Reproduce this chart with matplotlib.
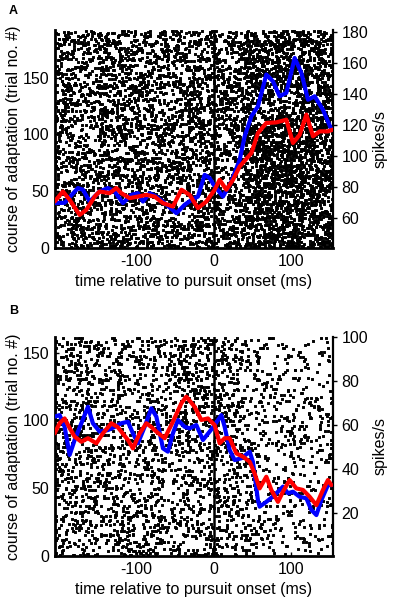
import numpy as np
import matplotlib
matplotlib.use("Agg")
import matplotlib.pyplot as plt

plt.rcParams['font.family'] = ['Liberation Sans', 'DejaVu Sans']

# ---------------- data ----------------
# Panel A firing rates (spikes/s)
a_blue_t = [-206.5, -193.5, -176.2, -169.7, -161.0, -148.1, -137.3, -128.6, -117.8, -106.9,
            -98.3, -91.8, -83.1, -74.4, -63.6, -48.4, -37.7, -28.6, -20.4, -11.7, -5.2, 0.0,
            12.1, 23.0, 33.8, 40.3, 49.0, 57.5, 68.4, 77.0, 85.7, 94.4, 105.2, 113.9, 122.5,
            131.2, 141.9, 152.9]
a_blue_v = [69.5, 69.7, 79.2, 78.1, 70.5, 77.0, 79.2, 77.0, 69.5, 74.8,
            75.9, 70.5, 75.9, 73.7, 69.5, 63.0, 68.4, 71.6, 73.7, 87.7, 85.6, 81.3,
            73.7, 83.4, 97.4, 112.5, 125.4, 131.8, 152.3, 147.9, 138.3, 140.5, 163.0, 153.4, 136.1,
            138.3, 129.7, 116.8]
a_red_t = [-206.5, -195.7, -187.0, -174.0, -165.3, -154.5, -148.1, -135.1, -126.4, -119.9,
           -109.1, -98.3, -87.4, -76.6, -65.8, -52.9, -41.9, -31.2, -20.4, -9.5, 1.3, 7.8,
           16.5, 25.1, 33.8, 49.0, 57.5, 68.4, 81.4, 94.4, 103.0, 111.7, 120.4, 129.0, 137.7,
           148.4, 154.5]
a_red_v = [70.5, 77.0, 71.6, 61.9, 65.2, 73.7, 77.0, 75.9, 79.2, 75.9,
           72.7, 73.7, 74.8, 73.7, 69.5, 67.3, 78.1, 74.8, 66.3, 70.5, 78.1, 84.5,
           78.1, 84.5, 93.1, 101.7, 114.6, 121.1, 121.5, 123.2, 108.2, 113.5, 126.5, 112.5, 115.7,
           115.7, 116.8]

# Panel B firing rates (spikes/s)
b_blue_t = [-206.5, -200.0, -193.5, -187.0, -180.5, -171.8, -163.2, -156.8, -148.1, -137.3,
            -128.6, -119.9, -111.3, -104.8, -98.3, -89.6, -80.9, -74.4, -65.8, -59.4, -52.9,
            -46.4, -37.7, -31.2, -22.5, -13.9, -5.2, 1.3, 10.0, 14.3, 20.8, 27.3, 36.0, 46.8,
            51.0, 57.5, 59.7, 68.4, 79.2, 90.0, 96.5, 103.0, 111.7, 120.4, 126.9, 133.4, 139.9,
            148.4, 152.9]
b_blue_v = [63.8, 64.5, 59.2, 46.4, 53.2, 60.8, 68.3, 60.8, 57.0, 57.7,
            59.1, 60.8, 61.5, 56.2, 51.7, 59.2, 67.6, 63.8, 49.4, 47.9, 56.2,
            62.3, 59.2, 58.5, 60.0, 53.2, 57.0, 60.0, 64.5, 59.2, 48.6, 44.1, 44.9, 47.9,
            43.3, 25.9, 22.9, 25.1, 28.2, 32.0, 29.0, 29.7, 27.4, 26.7, 21.4, 19.1, 25.9,
            32.7, 32.7]
b_red_t = [-206.5, -200.0, -193.5, -187.0, -180.5, -171.8, -163.2, -152.3, -143.8, -132.9,
           -124.7, -111.3, -104.8, -96.1, -87.4, -80.9, -74.4, -63.6, -52.9, -41.9, -35.5,
           -24.7, -16.0, -7.4, 1.3, 7.8, 14.3, 20.8, 29.5, 38.1, 46.8, 53.2, 59.7, 68.4,
           74.9, 83.5, 90.0, 98.7, 107.4, 116.0, 124.7, 133.4, 141.9, 148.4, 152.9]
b_red_v = [56.2, 60.8, 63.0, 58.6, 54.7, 52.4, 54.0, 51.7, 56.2, 60.8,
           59.1, 53.2, 49.4, 56.2, 60.8, 59.1, 57.0, 54.0, 61.5, 69.9, 72.9,
           68.3, 62.3, 63.0, 60.0, 51.7, 54.0, 54.0, 47.1, 45.6, 43.3, 38.0, 31.2, 36.5,
           30.5, 25.1, 29.7, 35.0, 31.2, 30.5, 27.4, 23.6, 30.5, 35.0, 32.7]

# raster: number of trials per panel
a_trials = 192
b_trials = 161

xticks = [-100, 0, 100]
a_left_ticks = [0, 50, 100, 150]
a_right_ticks = [60, 80, 100, 120, 140, 160, 180]
b_left_ticks = [0, 50, 100, 150]
b_right_ticks = [20, 40, 60, 80, 100]

XLIM = (-206, 155)
FS = 11.5


def raster(ax, n_trials, t_low, r_low, t_high, r_high, seed):
    """Spike raster whose dot density follows the rate curves (lower half of
    trials follows the first curve, upper half the second)."""
    rng = np.random.default_rng(seed)
    grid = np.arange(XLIM[0], XLIM[1], 1.0)
    xs, ys = [], []
    for k in range(n_trials):
        if k < n_trials / 2:
            rate = np.interp(grid, t_low, r_low)
        else:
            rate = np.interp(grid, t_high, r_high)
        p = rate / 1000.0
        hits = rng.random(grid.size) < p
        xs.append(grid[hits] + rng.random(hits.sum()))
        ys.append(np.full(hits.sum(), k + 0.5))
    sc = ax.scatter(np.concatenate(xs), np.concatenate(ys), s=4.4, marker='s',
                    color='black', linewidths=0, zorder=1)
    sc.set_snap(False)


fig = plt.figure(figsize=(3.94, 6.01), dpi=100)

panels = [
    dict(rect=[0.1396, 0.5874, 0.7056, 0.3627], trials=a_trials, ylim=(0, 192),
         rylim=(40.6, 181), lt=a_left_ticks, rt=a_right_ticks,
         blue=(a_blue_t, a_blue_v), red=(a_red_t, a_red_v), letter='A', ly=0.982,
         seed=3),
    dict(rect=[0.1396, 0.0749, 0.7056, 0.3644], trials=b_trials, ylim=(0, 161.5),
         rylim=(0.5, 100), lt=b_left_ticks, rt=b_right_ticks,
         blue=(b_blue_t, b_blue_v), red=(b_red_t, b_red_v), letter='B', ly=0.483,
         seed=7),
]

for p in panels:
    ax = fig.add_axes(p['rect'])
    raster(ax, p['trials'], p['blue'][0], p['blue'][1], p['red'][0], p['red'][1], p['seed'])
    ax.set_xlim(*XLIM)
    ax.set_ylim(*p['ylim'])
    ax.axvline(0, color='black', lw=1.8, zorder=2)
    ax.set_xticks(xticks)
    ax.set_xticklabels(['-100', '0', '100'])
    ax.set_yticks(p['lt'])
    ax.tick_params(axis='both', direction='in', length=3, width=1, labelsize=FS,
                   pad=4)
    for s in ['left', 'bottom']:
        ax.spines[s].set_linewidth(2.0)
    ax.spines['top'].set_visible(False)
    ax.spines['right'].set_visible(False)
    ax.set_xlabel('time relative to pursuit onset (ms)', fontsize=FS, labelpad=4)
    ax.set_ylabel('course of adaptation (trial no. #)', fontsize=FS, labelpad=1)

    ax2 = ax.twinx()
    ax2.set_ylim(*p['rylim'])
    ax2.set_yticks(p['rt'])
    ax2.tick_params(axis='y', direction='out', length=3, width=1, labelsize=FS, pad=3)
    ax2.spines['top'].set_visible(False)
    ax2.spines['left'].set_visible(False)
    ax2.spines['bottom'].set_visible(False)
    ax2.spines['right'].set_linewidth(1.6)
    ax2.plot(p['blue'][0], p['blue'][1], color='#0000ff', lw=3.0,
             solid_joinstyle='round', solid_capstyle='round', zorder=3)
    ax2.plot(p['red'][0], p['red'][1], color='#ff0000', lw=3.0,
             solid_joinstyle='round', solid_capstyle='round', zorder=4)
    ax2.set_ylabel('spikes/s', fontsize=FS, labelpad=3)
    fig.text(0.022, p['ly'], p['letter'], fontsize=9, fontweight='bold',
             ha='left', va='center')

fig.savefig('out.png', dpi=100)
